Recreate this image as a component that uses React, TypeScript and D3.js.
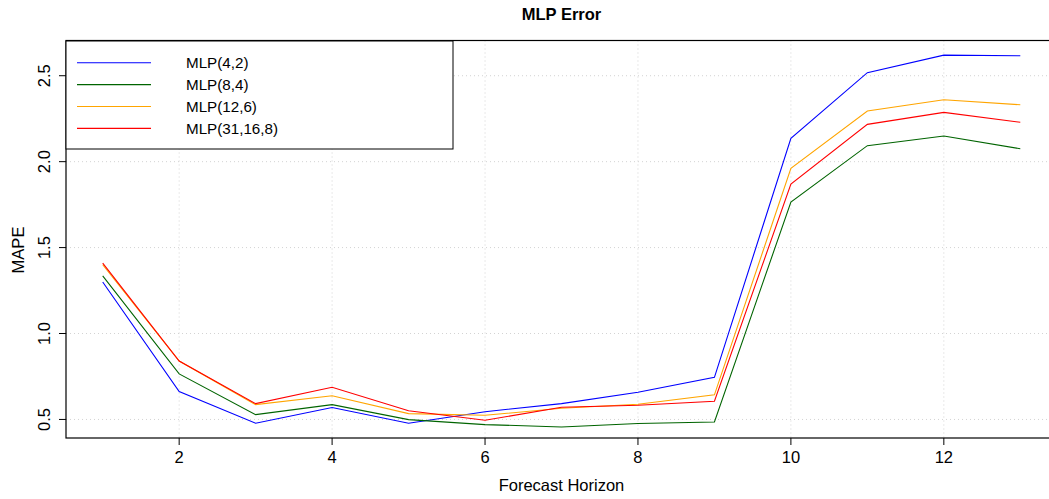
import * as d3 from "d3"

// forecast horizons 1..13
const horizons = [1, 2, 3, 4, 5, 6, 7, 8, 9, 10, 11, 12, 13]

const mlp42 = [1.3, 0.662, 0.478, 0.569, 0.478, 0.545, 0.592, 0.658, 0.745, 2.136, 2.518, 2.62, 2.616]
const mlp84 = [1.335, 0.765, 0.528, 0.586, 0.499, 0.47, 0.456, 0.476, 0.485, 1.765, 2.093, 2.149, 2.075]
const mlp126 = [1.4, 0.84, 0.586, 0.638, 0.534, 0.524, 0.565, 0.588, 0.643, 1.961, 2.295, 2.36, 2.331]
const mlp31168 = [1.41, 0.84, 0.592, 0.687, 0.551, 0.495, 0.571, 0.583, 0.606, 1.87, 2.217, 2.287, 2.229]

const seriesNames = ["MLP(4,2)", "MLP(8,4)", "MLP(12,6)", "MLP(31,16,8)"]
const seriesColors = ["#0000ff", "#006400", "#ffa500", "#ff0000"]
const seriesValues = [mlp42, mlp84, mlp126, mlp31168]

const xTicks = [2, 4, 6, 8, 10, 12]
const yTicks = [0.5, 1.0, 1.5, 2.0, 2.5]

const W = 1049
const H = 499
const plot = { left: 66, right: 1057, top: 40.5, bottom: 438 }
const font = "'Liberation Sans', Arial, Helvetica, sans-serif"
const axisSize = 16.5

export default function App() {
  const x = d3.scaleLinear().domain([0.52, 13.48]).range([plot.left, plot.right])
  const y = d3.scaleLinear().domain([0.392, 2.705]).range([plot.bottom, plot.top])

  const line = d3
    .line<number>()
    .x((_, i) => x(horizons[i]))
    .y((d) => y(d))

  const legend = { x: 66, y: 41, w: 387, h: 108, lineX1: 77, lineX2: 151, textX: 186, firstY: 62.7, step: 21.9 }

  return (
    <svg
      width={W}
      height={H}
      style={{ position: "absolute", left: 0, top: 0, background: "#fff" }}
      fontFamily={font}
    >
      <rect x={0} y={0} width={W} height={H} fill="#fff" />

      {/* grid */}
      <g stroke="#d3d3d3" strokeDasharray="1,3" strokeWidth={1}>
        {xTicks.map((t) => (
          <line key={"gx" + t} x1={x(t)} x2={x(t)} y1={plot.top} y2={plot.bottom} />
        ))}
        {yTicks.map((t) => (
          <line key={"gy" + t} x1={plot.left} x2={plot.right} y1={y(t)} y2={y(t)} />
        ))}
      </g>

      {/* series */}
      <g fill="none" strokeWidth={1.1}>
        {seriesValues.map((vals, i) => (
          <path key={seriesNames[i]} d={line(vals) || ""} stroke={seriesColors[i]} />
        ))}
      </g>

      {/* box */}
      <rect
        x={plot.left}
        y={plot.top}
        width={plot.right - plot.left}
        height={plot.bottom - plot.top}
        fill="none"
        stroke="#000"
        strokeWidth={1.2}
      />

      {/* x axis */}
      <g>
        {xTicks.map((t) => (
          <g key={"xt" + t}>
            <line x1={x(t)} x2={x(t)} y1={plot.bottom} y2={plot.bottom + 7} stroke="#000" />
            <text x={x(t)} y={463} fontSize={axisSize} textAnchor="middle">
              {t}
            </text>
          </g>
        ))}
        <text x={(plot.left + plot.right) / 2} y={491} fontSize={axisSize} textAnchor="middle">
          Forecast Horizon
        </text>
      </g>

      {/* y axis */}
      <g>
        {yTicks.map((t) => (
          <g key={"yt" + t}>
            <line x1={plot.left - 7} x2={plot.left} y1={y(t)} y2={y(t)} stroke="#000" />
            <text
              transform={`translate(50,${y(t)}) rotate(-90)`}
              fontSize={axisSize}
              textAnchor="middle"
            >
              {t.toFixed(1)}
            </text>
          </g>
        ))}
        <text transform={`translate(24,250) rotate(-90)`} fontSize={axisSize} textAnchor="middle">
          MAPE
        </text>
      </g>

      {/* title */}
      <text x={(plot.left + plot.right) / 2} y={20} fontSize={16.5} fontWeight="bold" textAnchor="middle">
        MLP Error
      </text>

      {/* legend */}
      <g>
        <rect x={legend.x} y={legend.y} width={legend.w} height={legend.h} fill="#fff" stroke="#000" strokeWidth={1} />
        {seriesNames.map((name, i) => {
          const ly = legend.firstY + i * legend.step
          return (
            <g key={"lg" + name}>
              <line x1={legend.lineX1} x2={legend.lineX2} y1={ly} y2={ly} stroke={seriesColors[i]} strokeWidth={1.1} />
              <text x={legend.textX} y={ly + 5.5} fontSize={15.2}>
                {name}
              </text>
            </g>
          )
        })}
      </g>
    </svg>
  )
}
